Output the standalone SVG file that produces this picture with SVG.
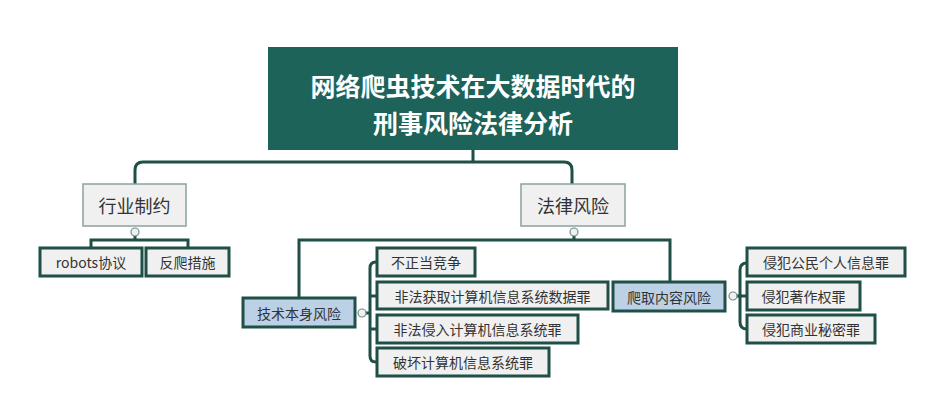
<svg xmlns="http://www.w3.org/2000/svg" width="935" height="400" viewBox="0 0 935 400">
<style>
text{font-family:"Noto Sans CJK SC","Liberation Sans",sans-serif;fill:#333;text-anchor:middle;dominant-baseline:central}
.root{fill:#1e6359}
.rt{fill:#fff;font-size:25px;font-weight:bold}
.l1{fill:#f0f0f0;stroke:#8aa39e;stroke-width:1.5}
.l1t{font-size:18px}
.l2{fill:#f0f0f0;stroke:#1f4f47;stroke-width:3}
.blue{fill:#bcd0e6;stroke:#1f4f47;stroke-width:3}
.t{font-size:14px}
.c{fill:none;stroke:#1f4f47;stroke-width:3}
.dot{fill:#f0f0f0;stroke:#6f8d88;stroke-width:1.2}
</style>
<g id="connectors">
<path class="c" d="M473 150V162H143Q135 162 135 170V184M473 162H564Q572 162 572 170V184"/>
<path class="c" d="M135 232V240H91V248M135 240H188V248"/>
<path class="c" d="M574 232V240H299V298M574 240H670V281"/>
<path class="c" d="M362 313H370M376 262H376Q370 262 370 268V356Q370 362 376 362M370 296H377M370 329H377"/>
<path class="c" d="M733 296H740M747 263Q740 263 740 270V322Q740 329 747 329M740 296H747"/>
<circle class="dot" cx="135" cy="232" r="4"/>
<circle class="dot" cx="574" cy="232" r="4"/>
<circle class="dot" cx="362" cy="313" r="4"/>
<circle class="dot" cx="733" cy="296" r="4"/>
</g>
<g id="root"><rect class="root" x="268" y="47" width="410" height="103"/><text class="rt" x="473" y="85">网络爬虫技术在大数据时代的</text><text class="rt" x="473" y="122">刑事风险法律分析</text></g>
<g id="n1"><rect class="l1" x="83" y="184" width="103" height="42"/><text class="l1t" x="134.5" y="205">行业制约</text></g>
<g id="n2"><rect class="l1" x="521" y="184" width="104" height="42"/><text class="l1t" x="573" y="205">法律风险</text></g>
<g id="n3"><rect class="l2" x="40" y="248" width="102" height="28"/><text class="t" x="91" y="262">robots协议</text></g>
<g id="n4"><rect class="l2" x="146" y="248" width="83" height="28"/><text class="t" x="187.5" y="262">反爬措施</text></g>
<g id="n5"><rect class="blue" x="243" y="298" width="112" height="29"/><text class="t" x="299" y="312.5">技术本身风险</text></g>
<g id="n6"><rect class="l2" x="377" y="248" width="98" height="28"/><text class="t" x="426" y="262">不正当竞争</text></g>
<g id="n7"><rect class="l2" x="377" y="282" width="231" height="27"/><text class="t" x="492.5" y="295.5">非法获取计算机信息系统数据罪</text></g>
<g id="n8"><rect class="l2" x="377" y="315" width="201" height="28"/><text class="t" x="477.5" y="329">非法侵入计算机信息系统罪</text></g>
<g id="n9"><rect class="l2" x="377" y="348" width="172" height="28"/><text class="t" x="463" y="362">破坏计算机信息系统罪</text></g>
<g id="n10"><rect class="blue" x="613" y="282" width="112" height="29"/><text class="t" x="669" y="296.5">爬取内容风险</text></g>
<g id="n11"><rect class="l2" x="747" y="248" width="158" height="28"/><text class="t" x="826" y="262">侵犯公民个人信息罪</text></g>
<g id="n12"><rect class="l2" x="747" y="282" width="113" height="28"/><text class="t" x="803.5" y="296">侵犯著作权罪</text></g>
<g id="n13"><rect class="l2" x="747" y="315" width="128" height="28"/><text class="t" x="811" y="329">侵犯商业秘密罪</text></g>
</svg>
